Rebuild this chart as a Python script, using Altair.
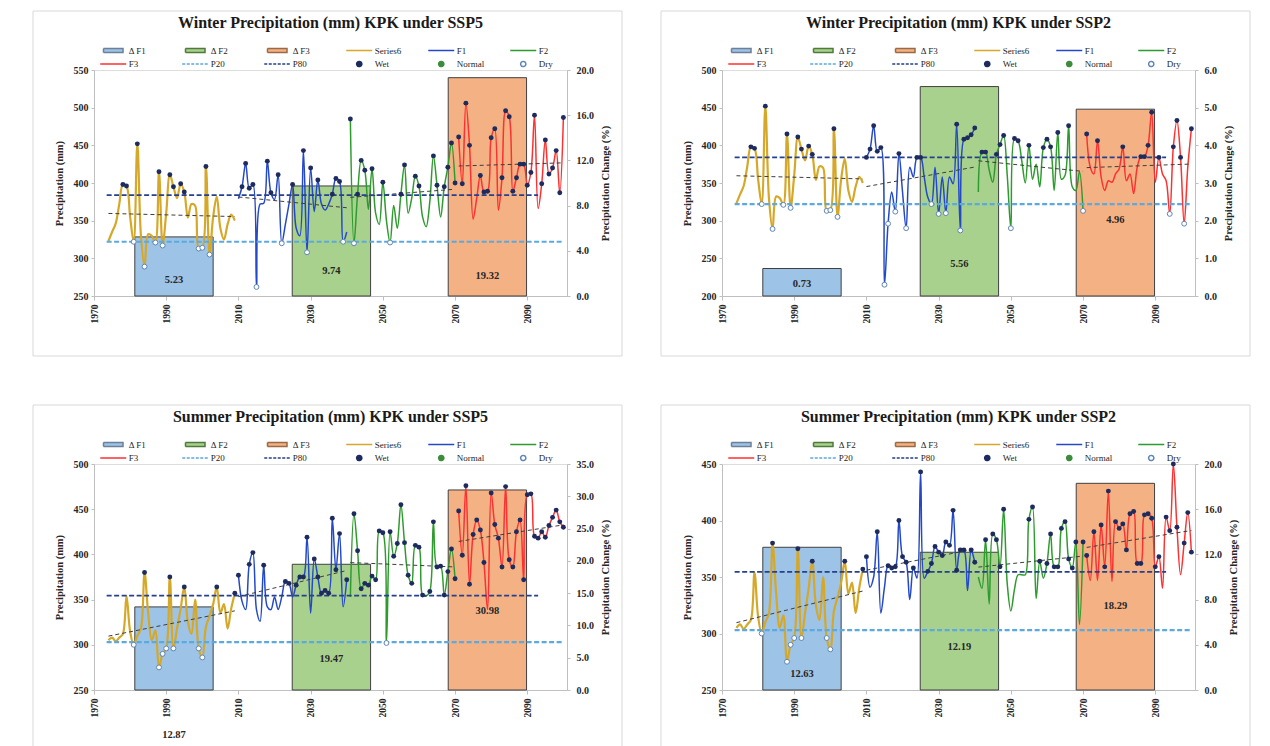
import altair as alt
import pandas as pd
import numpy as np

# ---------------- data ----------------
years_hist = list(range(1974, 2010))
years_f1 = list(range(2010, 2041))
years_f2 = list(range(2041, 2071))
years_f3 = list(range(2071, 2101))

hist_winter = [323, 335, 346, 372, 398, 396, 355, 322, 452, 330, 289, 332, 330, 321, 415, 317,
               360, 411, 395, 380, 399, 388, 354, 372, 370, 313, 314, 422, 305, 355, 382, 340,
               325, 345, 358, 350]
hist_summer = [305, 308, 304, 308, 312, 354, 315, 300, 310, 318, 380, 335, 305, 316, 275, 290,
               296, 375, 296, 318, 340, 364, 325, 312, 350, 296, 286, 320, 332, 345, 364, 335,
               345, 318, 340, 357]

w5_f1 = [379, 395, 426, 393, 398, 262, 372, 373, 429, 387, 378, 411, 320, 345, 372, 398, 340,
         330, 443, 308, 420, 362, 404, 372, 364, 372, 385, 406, 402, 322, 335]
w5_f2 = [485, 320, 385, 430, 417, 365, 419, 360, 345, 401, 350, 321, 370, 340, 385, 424, 360,
         380, 409, 396, 355, 342, 375, 436, 397, 355, 395, 421, 453, 400]
w5_f3 = [461, 399, 506, 450, 352, 380, 410, 388, 389, 460, 472, 364, 407, 496, 488, 389, 407,
         425, 425, 397, 414, 490, 366, 399, 457, 412, 420, 443, 387, 487]

w2_f1 = [384, 395, 426, 392, 397, 215, 296, 338, 312, 389, 338, 290, 371, 358, 384, 384, 358,
         331, 322, 371, 309, 358, 310, 358, 349, 428, 287, 408, 410, 414, 423]
w2_f2 = [338, 391, 391, 367, 351, 388, 401, 413, 360, 290, 409, 406, 380, 350, 400, 355, 375,
         345, 397, 408, 398, 340, 417, 355, 360, 426, 345, 340, 365, 313]
w2_f3 = [415, 371, 362, 406, 358, 340, 353, 351, 362, 369, 398, 353, 362, 336, 371, 385, 385,
         400, 444, 351, 384, 362, 353, 309, 398, 433, 384, 296, 371, 422]

s5_f1 = [377, 348, 339, 389, 402, 339, 326, 388, 342, 339, 353, 339, 353, 370, 368, 353, 366,
         375, 375, 419, 335, 395, 375, 357, 360, 357, 440, 383, 423, 342, 372]
s5_f2 = [353, 445, 404, 362, 368, 366, 376, 372, 426, 424, 302, 425, 398, 412, 455, 413, 377,
         368, 410, 408, 355, 354, 359, 436, 386, 387, 355, 381, 406, 373]
s5_f3 = [448, 399, 476, 367, 422, 438, 427, 391, 339, 468, 433, 418, 386, 475, 394, 386, 425,
         438, 372, 466, 467, 420, 418, 425, 419, 432, 441, 449, 436, 430]

s2_f1 = [368, 341, 350, 390, 318, 341, 360, 358, 359, 400, 368, 363, 330, 358, 349, 443, 349,
         355, 362, 377, 372, 369, 381, 378, 409, 356, 374, 374, 338, 374, 363]
s2_f2 = [350, 340, 383, 326, 388, 383, 359, 410, 344, 320, 339, 352, 352, 352, 401, 412, 331,
         364, 349, 362, 388, 359, 359, 393, 399, 366, 358, 381, 308, 381]
s2_f3 = [369, 347, 390, 347, 396, 359, 426, 346, 399, 393, 397, 374, 406, 408, 362, 362, 405,
         406, 402, 359, 368, 340, 403, 391, 450, 394, 352, 380, 407, 372]

# thresholds
winter_p20, winter_p80 = 322, 384
summer_p20, summer_p80 = 303, 354.5
p_start, p20_end, p80_end = 1973.5, 2100, 2093

# change bars
bar_names = ["Δ F1", "Δ F2", "Δ F3"]
bar_start = [1981.3, 2024.9, 2068.1]
bar_end = [2003.0, 2046.6, 2089.8]
w5_change = [5.23, 9.74, 19.32]
w2_change = [0.73, 5.56, 4.96]
s5_change = [12.87, 19.47, 30.98]
s2_change = [12.63, 12.19, 18.29]
# where each bar's value label sits (in % units)
w5_label_at = [1.44, 2.18, 1.74]
w2_label_at = [0.32, 0.85, 2.01]
s5_label_at = [-6.98, 4.82, 12.16]
s2_label_at = [1.38, 3.81, 7.45]

legend_names = ["Δ F1", "Δ F2", "Δ F3", "Series6", "F1", "F2",
                "F3", "P20", "P80", "Wet", "Normal", "Dry"]

# ---------------- styles ----------------
FONT = "Liberation Serif"
TXT = "#262626"
AXC = "#bfbfbf"
GOLD, BLUE, GREEN, RED = "#D6A82A", "#2449C8", "#2E9B2E", "#FF3030"
P20C, P80C = "#5AA9DF", "#26408B"
WETC, NORMC, DRYC = "#1E2B5E", "#3C8C3C", "#5F86B5"
BAR_FILLS = ["#9DC3E6", "#A9D18E", "#F4B183"]
LINE_COLORS = {"Series6": GOLD, "F1": BLUE, "F2": GREEN, "F3": RED}
LINE_WIDTHS = {"Series6": 2.2, "F1": 1.5, "F2": 1.5, "F3": 1.5}

# legend symbol paths (unit = 5 px with symbolSize 100)
RECT = "M-1.95,-0.4H1.95V0.4H-1.95Z"
LINE = "M-2.6,0H2.6"
DOT = "M-0.52,0A0.52,0.52,0,1,0,0.52,0A0.52,0.52,0,1,0,-0.52,0Z"
leg_shapes = [RECT, RECT, RECT, LINE, LINE, LINE, LINE, LINE, LINE, DOT, DOT, DOT]
leg_fills = BAR_FILLS + ["transparent"] * 6 + [WETC, NORMC, "#ffffff"]
leg_strokes = ["#6d7f99", "#4f7a3a", "#9a6a44", GOLD, BLUE, GREEN, RED, P20C, P80C,
               WETC, NORMC, DRYC]
leg_dash = [[1, 0]] * 7 + [[3, 1.5], [3, 1.5]] + [[1, 0]] * 3

PW, PH = 473, 226

XS = alt.Scale(domain=[1970, 2101], nice=False, zero=False)
XAXIS = alt.Axis(values=[1970, 1990, 2010, 2030, 2050, 2070, 2090], format="d",
                 labelAngle=270, labelFont=FONT, labelFontSize=9.5, labelFontWeight="bold",
                 labelColor=TXT, domainColor=AXC, tickColor=AXC, tickSize=4,
                 labelPadding=4, labelFlush=False, grid=False)


def series_frame(hist, f1, f2, f3, p20, p80):
    rows = []
    for name, yrs, vals in [("Series6", years_hist, hist), ("F1", years_f1, f1),
                            ("F2", years_f2, f2), ("F3", years_f3, f3)]:
        for y, v in zip(yrs, vals):
            rows.append({"year": y, "value": v, "period": name,
                         "col": LINE_COLORS[name], "sw": LINE_WIDTHS[name]})
    df = pd.DataFrame(rows)
    df["cls"] = np.where(df["value"] >= p80, "Wet",
                         np.where(df["value"] <= p20, "Dry", "Normal"))
    return df


def panel(title, hist, f1, f2, f3, p20, p80, ydom, ystep, rmax, rstep, change, label_at):
    df = series_frame(hist, f1, f2, f3, p20, p80)
    yscale = alt.Scale(domain=ydom, nice=False, zero=False)
    left_axis = alt.Axis(orient="left", values=list(range(ydom[0], ydom[1] + 1, ystep)),
                         format="d", title="Precipitation (mm)", titleFont=FONT,
                         titleFontSize=10.5, titleFontWeight="bold", titleColor=TXT,
                         titlePadding=9, labelFont=FONT, labelFontSize=10,
                         labelFontWeight="bold", labelColor=TXT, domainColor=AXC,
                         tickColor=AXC, tickSize=3, labelPadding=3, grid=False)
    rvals = [round(v, 1) for v in np.arange(0, rmax + 0.001, rstep)]
    right_axis = alt.Axis(orient="right", values=rvals, format=".1f",
                          title="Precipitation Change (%)", titleFont=FONT,
                          titleFontSize=10.5, titleFontWeight="bold", titleColor=TXT,
                          titleAngle=270, titleBaseline="top", titlePadding=7,
                          labelFont=FONT, labelFontSize=10,
                          labelFontWeight="bold", labelColor=TXT, domainColor=AXC,
                          tickColor=AXC, tickSize=3, labelPadding=6, grid=False)
    rscale = alt.Scale(domain=[0, rmax], nice=False, zero=True)

    x_year = alt.X("year:Q", scale=XS, axis=XAXIS, title=None)
    y_val = alt.Y("value:Q", scale=yscale, axis=left_axis)

    bars_df = pd.DataFrame({"name": bar_names, "start": bar_start, "end": bar_end,
                            "pct": change, "base": [0, 0, 0], "fillc": BAR_FILLS,
                            "lab": label_at, "txt": [f"{v:.2f}" for v in change]})
    bars_df["mid"] = (bars_df["start"] + bars_df["end"]) / 2

    bars = alt.Chart(bars_df).mark_bar(stroke="#404040", strokeWidth=1, opacity=1).encode(
        x=alt.X("start:Q", scale=XS, axis=XAXIS, title=None), x2="end:Q",
        y=alt.Y("pct:Q", scale=rscale, axis=right_axis), y2="base:Q",
        color=alt.Color("fillc:N", scale=None))
    labels = alt.Chart(bars_df).mark_text(font=FONT, fontSize=10.5, fontWeight="bold",
                                          color=TXT, baseline="middle").encode(
        x=alt.X("mid:Q", scale=XS, axis=XAXIS, title=None),
        y=alt.Y("lab:Q", scale=rscale, axis=right_axis), text="txt:N")

    lines = alt.Chart(df).mark_line(interpolate="catmull-rom").encode(
        x=x_year, y=y_val, color=alt.Color("col:N", scale=None),
        strokeWidth=alt.StrokeWidth("sw:Q", scale=None), detail="period:N")
    trend = alt.Chart(df).transform_regression("year", "value", groupby=["period"]).mark_line(
        strokeDash=[4, 3], color="#3d3d3d", strokeWidth=1).encode(
        x=x_year, y=y_val, detail="period:N")

    p_df = pd.DataFrame({"name": ["P20", "P80"], "value": [p20, p80],
                         "x1": [p_start, p_start], "x2": [p20_end, p80_end]})
    p20rule = alt.Chart(p_df).transform_filter("datum.name == 'P20'").mark_rule(
        color=P20C, strokeWidth=2.2, strokeDash=[5, 2.5]).encode(
        x=alt.X("x1:Q", scale=XS, axis=XAXIS, title=None), x2="x2:Q", y=y_val)
    p80rule = alt.Chart(p_df).transform_filter("datum.name == 'P80'").mark_rule(
        color=P80C, strokeWidth=1.8, strokeDash=[5, 2.5]).encode(
        x=alt.X("x1:Q", scale=XS, axis=XAXIS, title=None), x2="x2:Q", y=y_val)

    wet = alt.Chart(df).transform_filter("datum.cls == 'Wet'").mark_circle(
        size=24, color=WETC, opacity=1).encode(x=x_year, y=y_val)
    dry = alt.Chart(df).transform_filter("datum.cls == 'Dry'").mark_point(
        shape="circle", size=24, filled=False, fill="white", stroke=DRYC,
        strokeWidth=1, opacity=1).encode(x=x_year, y=y_val)

    leg = alt.Legend(orient="none", legendX=6, legendY=-26, direction="horizontal",
                     columns=6, title=None, symbolSize=100, symbolStrokeWidth=1.5,
                     symbolOffset=7.25, labelOffset=9.5,
                     labelFont=FONT, labelFontSize=9, labelColor=TXT,
                     columnPadding=22, rowPadding=2, gridAlign="all", padding=0)
    leg_df = pd.DataFrame({"name": legend_names, "year": [1900] * 12,
                           "value": [ydom[0] + 10] * 12})
    legend_dummy = alt.Chart(leg_df).mark_point(clip=True, opacity=1).encode(
        x=alt.X("year:Q", scale=XS, axis=XAXIS, title=None), y=y_val,
        fill=alt.Fill("name:N", scale=alt.Scale(domain=legend_names, range=leg_fills), legend=leg),
        stroke=alt.Stroke("name:N", scale=alt.Scale(domain=legend_names, range=leg_strokes), legend=leg),
        shape=alt.Shape("name:N", scale=alt.Scale(domain=legend_names, range=leg_shapes), legend=leg),
        strokeDash=alt.StrokeDash("name:N", scale=alt.Scale(domain=legend_names, range=leg_dash), legend=leg))

    box = alt.Chart(pd.DataFrame({"k": [0]})).mark_rect(
        fillOpacity=0, stroke="#d9d9d9", strokeWidth=1).encode(
        x=alt.value(-61), x2=alt.value(528), y=alt.value(-59), y2=alt.value(286))

    right_group = alt.layer(bars, labels)
    left_group = alt.layer(lines, trend, p20rule, p80rule, wet, dry, legend_dummy)
    return alt.layer(box, right_group, left_group).resolve_scale(y="independent").properties(
        width=PW, height=PH,
        title=alt.TitleParams(title, font=FONT, fontSize=16, fontWeight="bold", color="#1a1a1a",
                              anchor="middle", frame="group", offset=-20))


p1 = panel("Winter Precipitation (mm) KPK under SSP5", hist_winter, w5_f1, w5_f2, w5_f3,
           winter_p20, winter_p80, [250, 550], 50, 20, 4, w5_change, w5_label_at)
p2 = panel("Winter Precipitation (mm) KPK under SSP2", hist_winter, w2_f1, w2_f2, w2_f3,
           winter_p20, winter_p80, [200, 500], 50, 6, 1, w2_change, w2_label_at)
p3 = panel("Summer Precipitation (mm) KPK under SSP5", hist_summer, s5_f1, s5_f2, s5_f3,
           summer_p20, summer_p80, [250, 500], 50, 35, 5, s5_change, s5_label_at)
p4 = panel("Summer Precipitation (mm) KPK under SSP2", hist_summer, s2_f1, s2_f2, s2_f3,
           summer_p20, summer_p80, [250, 450], 50, 20, 4, s2_change, s2_label_at)

IND = dict(fill="independent", stroke="independent", shape="independent",
           strokeDash="independent")
top = alt.hconcat(p1, p2, spacing=37).resolve_scale(**IND).resolve_legend(**IND)
bottom = alt.hconcat(p3, p4, spacing=37).resolve_scale(**IND).resolve_legend(**IND)
chart = alt.vconcat(top, bottom, spacing=47).resolve_scale(**IND).resolve_legend(**IND)
chart = chart.properties(padding={"left": 24, "top": 2, "right": 5, "bottom": 0}).configure_view(
    stroke=None).configure(font=FONT, background="white")

chart.save("out.html", embed_options={"renderer": "svg", "actions": False})
